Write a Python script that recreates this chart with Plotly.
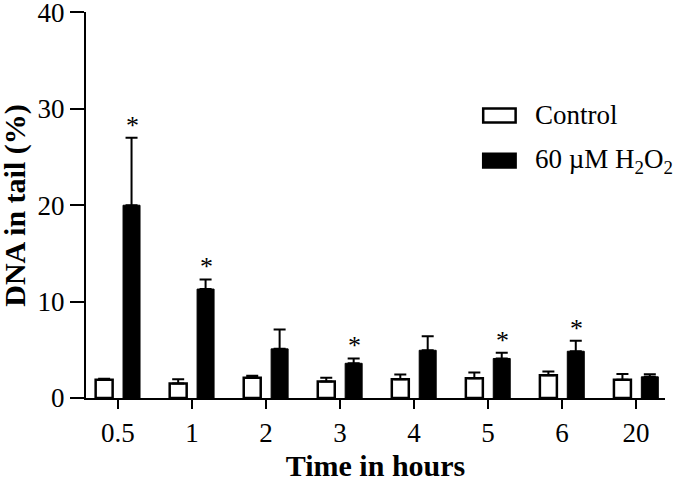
import plotly.graph_objects as go

# Data
time_labels = ["0.5", "1", "2", "3", "4", "5", "6", "20"]
control_mean = [1.9, 1.5, 2.1, 1.7, 1.95, 2.05, 2.35, 1.9]
control_err = [0.1, 0.45, 0.2, 0.4, 0.5, 0.6, 0.4, 0.6]
h2o2_mean = [20.0, 11.3, 5.1, 3.6, 4.95, 4.1, 4.85, 2.2]
h2o2_err = [7.0, 1.0, 2.0, 0.5, 1.45, 0.6, 1.1, 0.27]
significant = [True, True, False, True, False, True, True, False]

FONT = "Liberation Serif"

fig = go.Figure()

fig.add_trace(go.Bar(
    x=time_labels, y=control_mean, name="Control",
    marker=dict(color="white", line=dict(color="black", width=2.5)),
    error_y=dict(type="data", array=control_err, arrayminus=[0] * len(control_err),
                 symmetric=False, color="black", thickness=2, width=6),
    showlegend=False,
))
fig.add_trace(go.Bar(
    x=time_labels, y=h2o2_mean, name="60 µM H<sub>2</sub>O<sub>2</sub>",
    marker=dict(color="black", line=dict(color="black", width=1)),
    error_y=dict(type="data", array=h2o2_err, arrayminus=[0] * len(h2o2_err),
                 symmetric=False, color="black", thickness=2, width=6),
    showlegend=False,
))

# asterisks above significant H2O2 bars (category index + shift to the right bar)
for i, (m, e, s) in enumerate(zip(h2o2_mean, h2o2_err, significant)):
    if s:
        fig.add_annotation(x=i, y=m + e, text="*", showarrow=False,
                           xshift=14.5, yshift=-4, yanchor="bottom",
                           font=dict(family=FONT, size=26, color="#000000"))

# legend drawn by hand (larger swatches than plotly's built-in legend)
legend_items = [("Control", "white", 0.732), ("60 µM H<sub>2</sub>O<sub>2</sub> ", "black", 0.615)]
for text, fill, yc in legend_items:
    fig.add_shape(type="rect", xref="paper", yref="paper",
                  x0=0.686, x1=0.742, y0=yc - 0.018, y1=yc + 0.018,
                  fillcolor=fill, line=dict(color="black", width=2.5))
    fig.add_annotation(xref="paper", yref="paper", x=0.772, y=yc, text=text,
                       showarrow=False, xanchor="left", yanchor="middle",
                       font=dict(family=FONT, size=27, color="black"))

# y-axis title as a rotated annotation so it can sit right at the left edge
fig.add_annotation(xref="paper", yref="paper", x=-0.123, y=0.5,
                   text="<b>DNA in tail (%)</b>", textangle=-90, showarrow=False,
                   xanchor="center", yanchor="middle",
                   font=dict(family=FONT, size=30, color="black"))

fig.update_layout(
    width=685, height=488,
    margin=dict(l=86, r=20, t=12, b=90),
    plot_bgcolor="white", paper_bgcolor="white",
    barmode="group", bargap=0.26, bargroupgap=0.38,
    font=dict(family=FONT, size=27, color="black"),
    xaxis=dict(
        type="category", range=[-0.43, 7.39], automargin=False,
        showline=True, linecolor="black", linewidth=2,
        ticks="outside", ticklen=9, tickwidth=1.5, tickcolor="black",
        ticklabelstandoff=1,
        title=dict(text="<b>Time in hours</b>", font=dict(size=30), standoff=8),
        tickfont=dict(size=27),
    ),
    yaxis=dict(
        range=[0, 40.05], tickvals=[0, 10, 20, 30, 40], automargin=False,
        ticklabeloverflow="allow",
        showline=True, linecolor="black", linewidth=2,
        ticks="outside", ticklen=14, tickwidth=2, tickcolor="black",
        showgrid=False, zeroline=False,
        tickfont=dict(size=27),
    ),
)

# drop the default page margin so the figure sits at the window's corner
fig.write_html("out.html", config={"displayModeBar": False},
               post_script="document.body.style.margin='0';")
